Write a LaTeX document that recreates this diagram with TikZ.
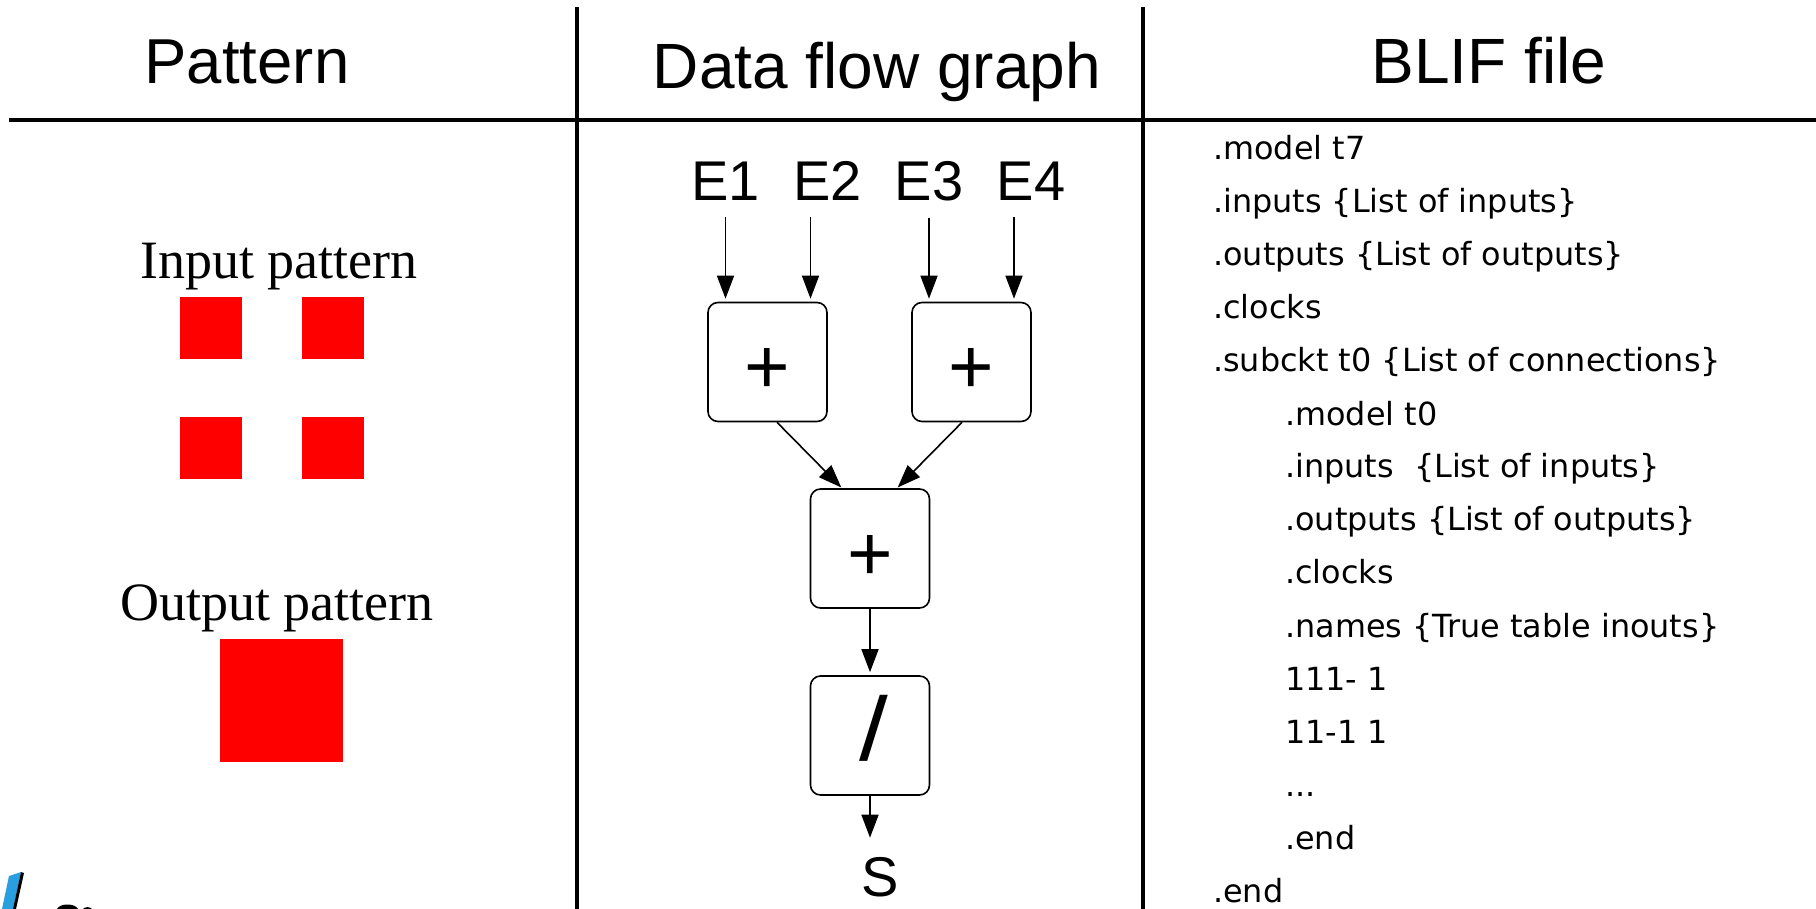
\documentclass[tikz,border=0pt]{standalone}
\usepackage{fontspec}
\setmainfont{Liberation Sans}
\newfontfamily\patternfont{Liberation Serif}
\newfontfamily\bliffont{DejaVu Sans}
\usetikzlibrary{arrows.meta}
\definecolor{logoblue}{HTML}{2A9FDF}
\tikzset{
      divider/.style  = { line width=3.5pt, black },
      heading/.style  = { anchor=base, inner sep=0pt, font=\fontsize{#1}{#1}\selectfont },
      patlabel/.style = { anchor=base, inner sep=0pt, font=\patternfont\fontsize{54}{54}\selectfont },
      block/.style    = { fill=red, inner sep=0pt, minimum size=#1 },
      opbox/.style    = { draw, line width=1.6pt, rounded corners=10pt, minimum size=119pt, inner sep=0pt,
                          text height=64pt, text depth=0pt, font=\fontsize{78}{78}\selectfont },
      port/.style     = { anchor=base, inner sep=16pt, font=\fontsize{56}{56}\selectfont },
      flow/.style     = { line width=1.6pt, shorten >=3pt, -{Triangle[length=23pt,width=17pt]} },
      blifline/.style = { anchor=base west, inner sep=0pt, font=\bliffont\fontsize{31.85}{31.85}\selectfont }
    }

\begin{document}
\begin{tikzpicture}[x=1pt,y=-1pt]
      \useasboundingbox (0,0) rectangle (1816,909);

      % Draw table rules
      \draw[divider] (9,120) -- (1816,120);
      \draw[divider] (577,7) -- (577,909);
      \draw[divider] (1143,7) -- (1143,909);

      % Draw headings
      \node[heading=63.5] (pattern) at (247,84) {Pattern};
      \node[heading=64]   (graph)   at (877,89) {Data flow graph};
      \node[heading=64]   (blif)    at (1489,84) {BLIF file};

      % Draw patterns
      \node[patlabel] (inlabel)  at (279,279) {Input pattern};
      \node[patlabel] (outlabel) at (277,620) {Output pattern};
      \foreach \name/\i/\j in {ina/211/328, inb/332.5/328, inc/211/448, ind/332.5/448} {
        \node[block=62pt] (\name) at (\i,\j) {};
      }
      \node[block=123pt] (outblock) at (281.5,700.5) {};

      % Draw data flow graph
      \node[port] (e1) at (725.5,201) {E1};
      \node[port] (e2) at (827.5,201) {E2};
      \node[port] (e3) at (929,201)   {E3};
      \node[port] (e4) at (1031,201)  {E4};
      \node[opbox] (add1) at (767.5,362) {+};
      \node[opbox] (add2) at (971.5,362) {+};
      \node[opbox] (add3) at (870,548.5) {+};
      \node[opbox, text height=49pt, font=\fontsize{90}{90}\selectfont] (div) at (870,735.5) {\hspace*{8pt}\scalebox{1.15}[1]{/}};
      \node[port] (s) at (880,896) {S};

      \draw[flow] (e1.south) -- (e1.south |- add1.north);
      \draw[flow] ([xshift=-17pt]e2.south) -- ([xshift=-17pt]e2.south |- add1.north);
      \draw[flow] (e3.south) -- (e3.south |- add2.north);
      \draw[flow] ([xshift=-17pt]e4.south) -- ([xshift=-17pt]e4.south |- add2.north);
      \draw[flow, shorten >=1pt] ([xshift=9.5pt]add1.south) -- ([xshift=-28pt]add3.north);
      \draw[flow, shorten >=1pt] ([xshift=-9.5pt]add2.south) -- ([xshift=27pt]add3.north);
      \draw[flow] (add3.south) -- (div.north);
      \draw[flow] (div.south) -- (div.south |- s.north);

      % Draw BLIF listing
      \foreach \name/\i/\j/\txt in {
        la/1213/160/{.model t7},
        lb/1213/213/{.inputs \{List of inputs\}},
        lc/1213/266/{.outputs \{List of outputs\}},
        ld/1213/319/{.clocks},
        le/1213/372/{.subckt t0 \{List of connections\}},
        lf/1285/425/{.model t0},
        lg/1285/477/{.inputs\ \ \{List of inputs\}},
        lh/1285/530/{.outputs \{List of outputs\}},
        li/1285/583/{.clocks},
        lj/1285/637/{.names \{True table inouts\}},
        lk/1285/690/{111- 1},
        ll/1285/743/{11-1 1},
        lm/1285/796/{...},
        ln/1285/849/{.end},
        lo/1213/902/{.end}} {
        \node[blifline] (\name) at (\i,\j) {\txt};
      }

      % Draw cropped logo
      \fill[logoblue] (2,909) -- (9,876) -- (21,872) -- (13,909) -- cycle;
      \fill[black] (21,872) -- (24,873) -- (16,909) -- (13,909) -- cycle;
      \fill[black] (57,909) .. controls (60,903) and (75,903) .. (78,909) -- cycle;
      \fill[black] (83,909) .. controls (85,906.5) and (90,906.5) .. (92,909) -- cycle;
\end{tikzpicture}
\end{document}
